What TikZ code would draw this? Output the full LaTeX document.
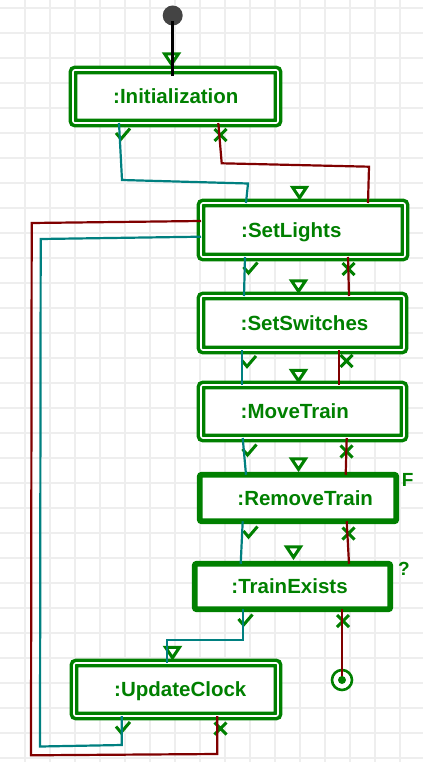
\documentclass[tikz,border=0pt]{standalone}
\usepackage{fontspec}
\setmainfont{Liberation Sans}
\pgfdeclarelayer{background}
\pgfsetlayers{background,main}
\definecolor{dgreen}{HTML}{008000}
\definecolor{dred}{HTML}{800000}
\definecolor{okc}{HTML}{008080}
\definecolor{gridc}{HTML}{EEEEEE}
\definecolor{startc}{HTML}{444444}
\tikzset{
  act/.style={draw=dgreen, double=white, line width=3.5pt, double distance=1.6pt, fill=white, rounded corners=2pt, inner sep=0pt, outer sep=0pt},
  acts/.style={draw=dgreen, line width=5.8pt, fill=white, rounded corners=2pt, inner sep=0pt, outer sep=0pt},
  lbl/.style={text=dgreen, font=\bfseries\fontsize{20.5}{23}\selectfont, inner sep=0pt, anchor=base west},
  smalllbl/.style={text=dgreen, font=\bfseries\fontsize{19}{21}\selectfont, inner sep=0pt, anchor=base west},
  okline/.style={draw=okc, line width=2.2pt},
  failline/.style={draw=dred, line width=2.2pt},
  okmark/.pic={\draw[dgreen, line width=3pt] (-6.5,-1) -- (-1.5,5) -- (7.5,-5.5);},
  failmark/.pic={\draw[dgreen, line width=3pt] (-6,-6) -- (6,6) (-6,6) -- (6,-6);},
  intri/.pic={\draw[dgreen, line width=3pt, fill=white] (-7,-5.2) -- (7,-5.2) -- (0,5.3) -- cycle;}
}
\begin{document}
\begin{tikzpicture}[x=1pt,y=-1pt]
\useasboundingbox (0,0) rectangle (423,762);
\begin{pgfonlayer}{background}
  \fill[white] (0,0) rectangle (423,762);
  \foreach \x in {25,50,...,400} \draw[gridc, line width=2pt] (\x,0) -- (\x,762);
  \foreach \y in {8,33,...,758} \draw[gridc, line width=2pt] (0,\y) -- (423,\y);
\end{pgfonlayer}

% activity boxes
\node[act, minimum width=205pt, minimum height=53pt] (init) at (175.5,96.5) {};
\node[act, minimum width=204pt, minimum height=54pt] (lights) at (303,230) {};
\node[act, minimum width=203pt, minimum height=54pt] (switches) at (302.5,323) {};
\node[act, minimum width=203pt, minimum height=53pt] (move) at (302.5,411.5) {};
\node[acts, minimum width=196.5pt, minimum height=46.5pt] (remove) at (298,498) {};
\node[acts, minimum width=195.5pt, minimum height=45.5pt] (exists) at (292.5,586.5) {};
\node[act, minimum width=204pt, minimum height=53pt] (clock) at (176,689.5) {};

% labels
\node[lbl] (initT) at ([xshift=40pt,yshift=-7.3pt]init.west) {:Initialization};
\node[lbl] (lightsT) at ([xshift=40pt,yshift=-7.3pt]lights.west) {:SetLights};
\node[lbl] (switchesT) at ([xshift=39.5pt,yshift=-7.3pt]switches.west) {:SetSwitches};
\node[lbl] (moveT) at ([xshift=39.5pt,yshift=-7.3pt]move.west) {:MoveTrain};
\node[lbl] (removeT) at ([xshift=37.5pt,yshift=-7.3pt]remove.west) {:RemoveTrain};
\node[lbl] (existsT) at ([xshift=36.5pt,yshift=-7.3pt]exists.west) {:TrainExists};
\node[lbl] (clockT) at ([xshift=40pt,yshift=-7.3pt]clock.west) {:UpdateClock};
\node[smalllbl] (fT) at (401.7,486) {F};
\node[smalllbl] (qT) at (398,575.5) {?};

% start and final
\node[circle, fill=startc, minimum size=20pt, inner sep=0pt] (start) at (172.7,15.5) {};
\node[circle, draw=dgreen, line width=2.6pt, fill=white, minimum size=20pt, inner sep=0pt] (final) at (342,680) {};

% incoming triangles
\pic at (171.5,59) {intri};
\pic at (299.5,192.5) {intri};
\pic at (298.5,286) {intri};
\pic at (298.5,375.5) {intri};
\pic at (298.5,464) {intri};
\pic at (293.5,552) {intri};
\pic at (172.5,652.5) {intri};

% check marks
\pic at (122.5,134) {okmark};
\pic at (250,268) {okmark};
\pic at (248.5,361.5) {okmark};
\pic at (249,450) {okmark};
\pic at (250,532) {okmark};
\pic at (245,620) {okmark};
\pic at (122.5,727.5) {okmark};

% x marks
\pic at (220.5,135) {failmark};
\pic at (348.5,269) {failmark};
\pic at (346.5,361) {failmark};
\pic at (346.5,451.5) {failmark};
\pic at (348.5,533.5) {failmark};
\pic at (343,621) {failmark};
\pic at (220.5,728.5) {failmark};

% start connector
\draw[line width=2.5pt] ([yshift=-6pt]start.center) -- (start |- 0,76);

% success connectors
\draw[okline] (119,0 |- init.south) -- (122,180) -- (248,183.5) -- (246,0 |- lights.north);
\draw[okline] (245,0 |- lights.south) -- (244,0 |- switches.north);
\draw[okline] (242,0 |- switches.south) -- (242,0 |- move.north);
\draw[okline] (242.7,0 |- move.south) -- (246,0 |- remove.north);
\draw[okline] (242.7,0 |- remove.south) -- (240.7,0 |- exists.north);
\draw[okline] (243,0 |- exists.south) -- (243,640) -- (167,640) -- (167,0 |- clock.north);
\draw[okline] (121.7,0 |- clock.south) -- (121.7,745) -- (40,746.5) -- (40.7,239) -- (lights.west |- 0,236.7);

% failure connectors
\draw[failline] (218.3,0 |- init.south) -- (221.7,163.3) -- (369,166.7) -- (368,0 |- lights.north);
\draw[failline] (348,0 |- lights.south) -- (349,0 |- switches.north);
\draw[failline] (339,0 |- switches.south) -- (339,0 |- move.north);
\draw[failline] (346.7,0 |- move.south) -- (345.7,0 |- remove.north);
\draw[failline] (346.7,0 |- remove.south) -- (349,0 |- exists.north);
\draw[failline] (342,0 |- exists.south) -- (final.center);
\draw[failline] (217.3,0 |- clock.south) -- (217.3,754) -- (31,755.3) -- (31.7,223) -- (lights.west |- 0,221);

\fill[dgreen] (final.center) circle (4);
\end{tikzpicture}
\end{document}
